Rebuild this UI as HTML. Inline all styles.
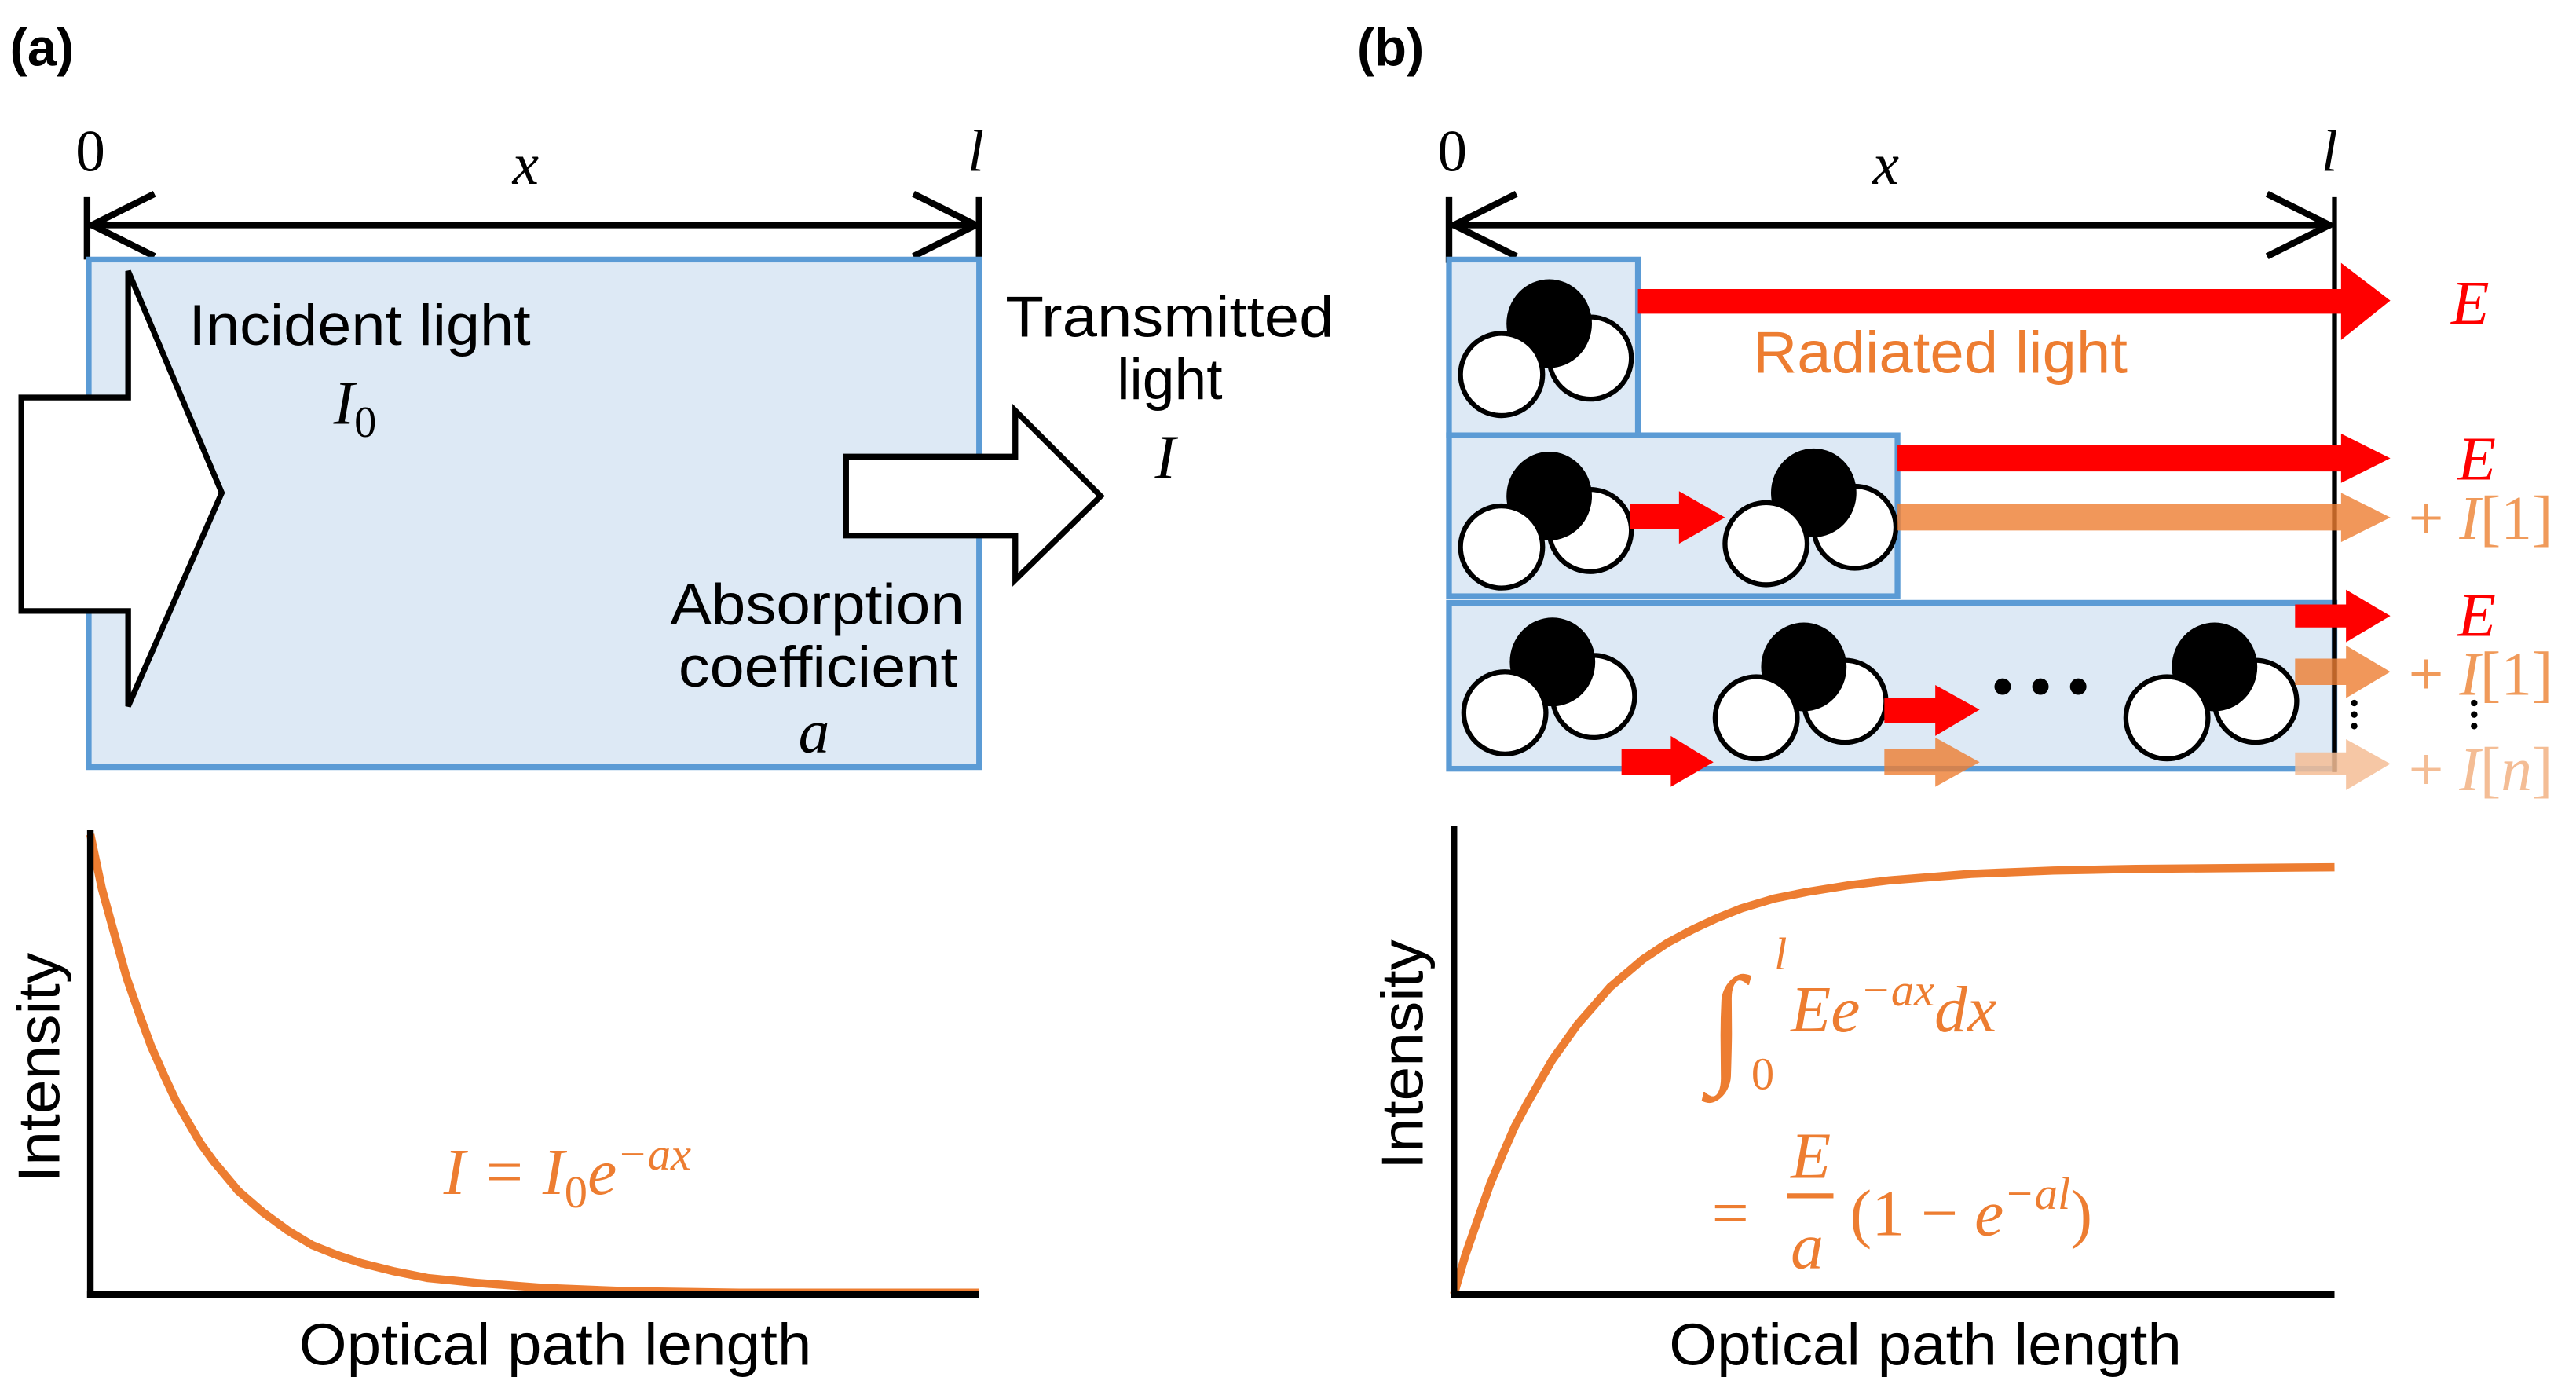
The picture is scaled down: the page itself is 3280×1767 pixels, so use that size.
<!DOCTYPE html>
<html><head><style>html,body{margin:0;padding:0;background:#fff}svg{display:block}</style></head>
<body>
<svg width="3280" height="1767" viewBox="0 0 1568 845" preserveAspectRatio="none" xmlns="http://www.w3.org/2000/svg">
<defs>
<g id="mol">
<circle cx="25" cy="21" r="25" fill="#fff" stroke="#000" stroke-width="3"/>
<ellipse cx="0" cy="0" rx="26" ry="27" fill="#000"/>
<circle cx="-29" cy="31" r="25" fill="#fff" stroke="#000" stroke-width="3"/>
</g>
</defs>
<g font-family="Liberation Sans, sans-serif">
<text x="6" y="40" font-size="32" font-weight="bold">(a)</text>
<text x="826" y="40" font-size="32" font-weight="bold">(b)</text>
</g>
<g font-family="Liberation Serif, serif" font-size="36">
<text x="46" y="104">0</text>
<text x="312" y="112" font-style="italic">x</text>
<text x="589" y="104" font-style="italic">l</text>
<text x="875" y="104">0</text>
<text x="1140" y="112" font-style="italic">x</text>
<text x="1413" y="104" font-style="italic">l</text>
</g>
<g stroke="#000" stroke-width="4" fill="none">
<line x1="53" y1="120" x2="53" y2="158"/><line x1="596" y1="120" x2="596" y2="158"/>
<line x1="55" y1="137" x2="594" y2="137"/>
<polyline points="94,118 56,137 94,156"/><polyline points="556,118 594,137 556,156"/>
</g>
<rect x="54" y="158" width="542" height="309" fill="#dde9f5" stroke="#5b9bd5" stroke-width="3.5"/>
<polygon points="13,242 78,242 78,165 135,300 78,430 78,372 13,372" fill="#fff" stroke="#000" stroke-width="3.5"/>
<polygon points="515,278 618,278 618,250 670,302 618,353 618,326 515,326" fill="#fff" stroke="#000" stroke-width="3.5"/>
<g font-family="Liberation Sans, sans-serif" font-size="35">
<text x="115" y="210" textLength="208" lengthAdjust="spacingAndGlyphs">Incident light</text>
<text x="612" y="205" textLength="200" lengthAdjust="spacingAndGlyphs">Transmitted</text>
<text x="712" y="243" text-anchor="middle">light</text>
<text x="408" y="380" textLength="179" lengthAdjust="spacingAndGlyphs">Absorption</text>
<text x="413" y="418" textLength="170" lengthAdjust="spacingAndGlyphs">coefficient</text>
</g>
<g font-family="Liberation Serif, serif" font-style="italic" font-size="38">
<text x="203" y="258">I<tspan font-style="normal" font-size="27" dy="8">0</tspan></text>
<text x="703" y="291">I</text>
<text x="486" y="458">a</text>
</g>
<polyline points="55,508 62,541 70,570 77,595 85,618 92,637 100,655 107,670 115,684 122,696 130,707 145,725 160,738 175,749 190,758 205,764 220,769 240,774 260,778 290,781 330,784 380,786 450,787 596,787" fill="none" stroke="#ed7d31" stroke-width="5" stroke-linejoin="round"/>
<g stroke="#000" stroke-width="4"><line x1="55" y1="505" x2="55" y2="790"/><line x1="53" y1="788" x2="596" y2="788"/></g>
<g font-family="Liberation Sans, sans-serif" font-size="36">
<text transform="translate(36,650) rotate(-90)" text-anchor="middle" textLength="140" lengthAdjust="spacingAndGlyphs">Intensity</text>
<text x="182" y="831" textLength="312" lengthAdjust="spacingAndGlyphs">Optical path length</text>
<text transform="translate(866,642) rotate(-90)" text-anchor="middle" textLength="140" lengthAdjust="spacingAndGlyphs">Intensity</text>
<text x="1016" y="831" textLength="312" lengthAdjust="spacingAndGlyphs">Optical path length</text>
</g>
<text x="270" y="727" font-family="Liberation Serif, serif" font-style="italic" font-size="40" fill="#ed7d31">I = I<tspan font-size="28" font-style="normal" dy="8">0</tspan><tspan dy="-8">e</tspan><tspan font-size="28" dy="-15">−ax</tspan></text>
<g stroke="#000" stroke-width="4" fill="none">
<line x1="882" y1="120" x2="882" y2="160"/>
<line x1="884" y1="137" x2="1419" y2="137"/>
<polyline points="923,118 885,137 923,156"/><polyline points="1380,118 1418,137 1380,156"/>
</g>
<g fill="#dde9f5" stroke="#5b9bd5" stroke-width="3.5">
<rect x="882" y="367" width="539" height="101"/>
<rect x="882" y="265" width="273" height="98"/>
<rect x="882" y="158" width="115" height="107"/>
</g>
<line x1="1421" y1="120" x2="1421" y2="470" stroke="#000" stroke-width="3"/>
<use href="#mol" x="943" y="197"/>
<use href="#mol" x="943" y="302"/>
<use href="#mol" x="1104" y="300"/>
<use href="#mol" x="945" y="403"/>
<use href="#mol" x="1098" y="406"/>
<use href="#mol" x="1348" y="406"/>
<g fill="#ff0000">
<polygon points="997,176 1425,176 1425,160 1455,183 1425,207 1425,191 997,191"/>
<polygon points="1155,271 1425,271 1425,264 1455,279 1425,294 1425,287 1155,287"/>
<polygon points="1397,368 1428,368 1428,359 1455,375 1428,391 1428,382 1397,382"/>
<polygon points="992,307 1022,307 1022,299 1050,315 1022,331 1022,322 992,322"/>
<polygon points="1147,425 1178,425 1178,417 1205,432 1178,448 1178,440 1147,440"/>
<polygon points="987,456 1017,456 1017,448 1043,464 1017,479 1017,472 987,472"/>
</g>
<g fill="#ed7d31" opacity="0.8">
<polygon points="1155,307 1425,307 1425,300 1455,315 1425,330 1425,323 1155,323"/>
<polygon points="1397,401 1428,401 1428,393 1455,409 1428,425 1428,417 1397,417"/>
<polygon points="1147,456 1178,456 1178,449 1205,464 1178,479 1178,472 1147,472"/>
</g>
<polygon points="1397,458 1428,458 1428,450 1455,465 1428,481 1428,472 1397,472" fill="#f4bd95" opacity="0.85"/>
<g fill="#000">
<circle cx="1219" cy="418" r="5"/><circle cx="1242" cy="418" r="5"/><circle cx="1265" cy="418" r="5"/>
<circle cx="1433" cy="428" r="2"/><circle cx="1433" cy="435" r="2"/><circle cx="1433" cy="442" r="2"/>
<circle cx="1506" cy="428" r="2"/><circle cx="1506" cy="435" r="2"/><circle cx="1506" cy="442" r="2"/>
</g>
<text x="1067" y="227" font-family="Liberation Sans, sans-serif" font-size="36" fill="#ed7d31" textLength="228" lengthAdjust="spacingAndGlyphs">Radiated light</text>
<g font-family="Liberation Serif, serif" font-size="38" font-style="italic">
<text x="1492" y="197" fill="#ff0000">E</text>
<text x="1496" y="292" fill="#ff0000">E</text>
<text x="1496" y="387" fill="#ff0000">E</text>
<text x="1466" y="328" fill="#f09a5a"><tspan font-style="normal">+ </tspan>I<tspan font-style="normal">[1]</tspan></text>
<text x="1466" y="423" fill="#f09a5a"><tspan font-style="normal">+ </tspan>I<tspan font-style="normal">[1]</tspan></text>
<text x="1466" y="481" fill="#f4bd95"><tspan font-style="normal">+ </tspan>I<tspan font-style="normal">[</tspan>n<tspan font-style="normal">]</tspan></text>
</g>
<polyline points="885,788 892,764 900,741 907,721 915,702 922,686 930,671 945,645 960,624 980,601 1000,584 1015,574 1030,566 1045,559 1060,553 1080,547 1100,543 1125,539 1150,536 1200,532 1250,530 1300,529 1421,528" fill="none" stroke="#ed7d31" stroke-width="5" stroke-linejoin="round"/>
<g stroke="#000" stroke-width="4"><line x1="885" y1="503" x2="885" y2="790"/><line x1="883" y1="788" x2="1421" y2="788"/></g>
<g font-family="Liberation Serif, serif" font-style="italic" fill="#ed7d31" font-size="40">
<text x="1040" y="650" font-size="80" font-style="normal">∫</text>
<text x="1080" y="590" font-size="28">l</text>
<text x="1066" y="663" font-size="28" font-style="normal">0</text>
<text x="1090" y="628">Ee<tspan font-size="28" dy="-16">−ax</tspan><tspan dy="16">dx</tspan></text>
<text x="1042" y="752" font-style="normal">=</text>
<text x="1090" y="717">E</text>
<line x1="1088" y1="728" x2="1116" y2="728" stroke="#ed7d31" stroke-width="3"/>
<text x="1090" y="772">a</text>
<text x="1126" y="752"><tspan font-style="normal">(1 − </tspan>e<tspan font-size="28" dy="-16">−al</tspan><tspan font-style="normal" dy="16">)</tspan></text>
</g>
</svg>
</body></html>
